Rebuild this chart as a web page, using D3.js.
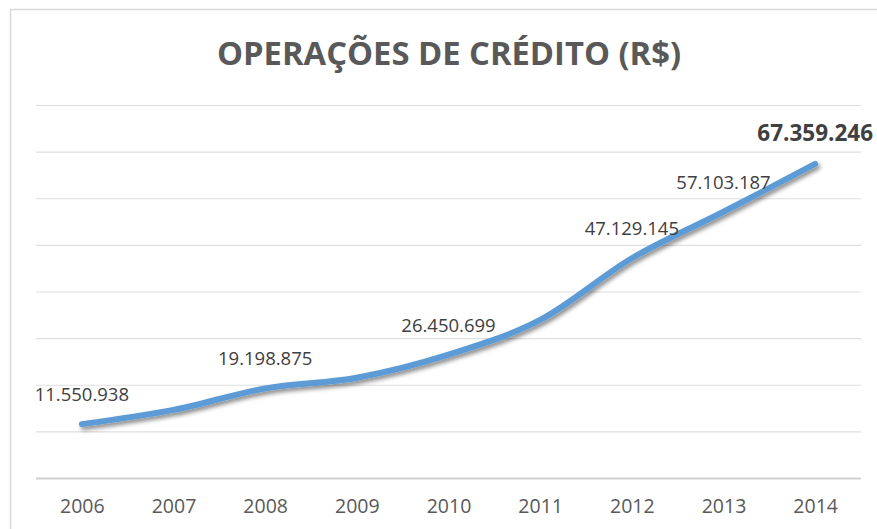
<!DOCTYPE html>
<html>
<head>
<meta charset="utf-8">
<script src="https://cdn.jsdelivr.net/npm/d3@7"></script>
<style>
  html, body { margin: 0; padding: 0; background: #ffffff; }
  svg { display: block; }
</style>
</head>
<body>
<svg id="chart" width="877" height="529"></svg>
<script>
const years = ["2006","2007","2008","2009","2010","2011","2012","2013","2014"];
const values = [11550938, 14600000, 19198875, 21500000, 26450699, 33900000, 47129145, 57103187, 67359246];
const labelShown = [true, false, true, false, true, false, true, true, true];
const labelBold = [false, false, false, false, false, false, false, false, true];
const yTicks = [0, 10000000, 20000000, 30000000, 40000000, 50000000, 60000000, 70000000, 80000000];
const title = "OPERAÇÕES DE CRÉDITO (R$)";

const svg = d3.select("#chart");
const W = 877, H = 529;

const locale = d3.formatLocale({decimal: ",", thousands: ".", grouping: [3], currency: ["R$", ""]});
const fmt = locale.format(",d");

// border
svg.append("rect")
  .attr("x", 10.5).attr("y", 9.5)
  .attr("width", 900).attr("height", 600)
  .attr("fill", "#ffffff")
  .attr("stroke", "#d9d9d9").attr("stroke-width", 1.5);

const x = d3.scalePoint().domain(years).range([36, 861]).padding(0.5);
const y = d3.scaleLinear().domain([0, 80000000]).range([478, 105]);

// gridlines
const yAxis = d3.axisLeft(y).tickValues(yTicks).tickSize(-(861 - 36)).tickFormat("");
const gy = svg.append("g").attr("transform", "translate(36,0)").call(yAxis);
gy.select(".domain").remove();
gy.selectAll(".tick line")
  .attr("stroke", d => d === 0 ? "#d0d0d0" : "#dedede")
  .attr("stroke-width", d => d === 0 ? 2 : 1.2);

// x axis labels
const xAxis = d3.axisBottom(x).tickSize(0).tickPadding(0);
const gx = svg.append("g").attr("transform", "translate(0,478)").call(xAxis);
gx.select(".domain").remove();
gx.selectAll(".tick text")
  .attr("y", 35).attr("dy", null)
  .attr("font-family", "'Open Sans', sans-serif")
  .attr("font-size", 19.5)
  .attr("fill", "#595959");

// title
svg.append("text")
  .attr("x", 449).attr("y", 65)
  .attr("text-anchor", "middle")
  .attr("font-family", "'Open Sans', sans-serif")
  .attr("font-weight", "bold")
  .attr("font-size", 32)
  .attr("fill", "#595959")
  .attr("textLength", 464)
  .attr("lengthAdjust", "spacingAndGlyphs")
  .text(title);

// shadow filter
const defs = svg.append("defs");
const f = defs.append("filter").attr("id", "shadow")
  .attr("x", "-10%").attr("y", "-10%").attr("width", "120%").attr("height", "130%");
f.append("feDropShadow")
  .attr("dx", 2).attr("dy", 3).attr("stdDeviation", 2)
  .attr("flood-color", "#000").attr("flood-opacity", 0.45);

const data = years.map((yr, i) => ({year: yr, value: values[i], shown: labelShown[i], bold: labelBold[i]}));

const line = d3.line()
  .x(d => x(d.year))
  .y(d => y(d.value))
  .curve(d3.curveCardinal.tension(0));

svg.append("path")
  .datum(data)
  .attr("d", line)
  .attr("fill", "none")
  .attr("stroke", "#5b9bd5")
  .attr("stroke-width", 6)
  .attr("stroke-linecap", "round")
  .attr("stroke-linejoin", "round")
  .attr("filter", "url(#shadow)");

// data labels
svg.append("g").selectAll("text")
  .data(data.filter(d => d.shown))
  .join("text")
  .attr("x", d => x(d.year))
  .attr("y", d => y(d.value) - 23)
  .attr("text-anchor", "middle")
  .attr("font-family", "'Open Sans', sans-serif")
  .attr("font-size", d => d.bold ? 22.5 : 18.5)
  .attr("font-weight", d => d.bold ? "bold" : "normal")
  .attr("fill", "#404040")
  .text(d => fmt(d.value));
</script>
</body>
</html>
